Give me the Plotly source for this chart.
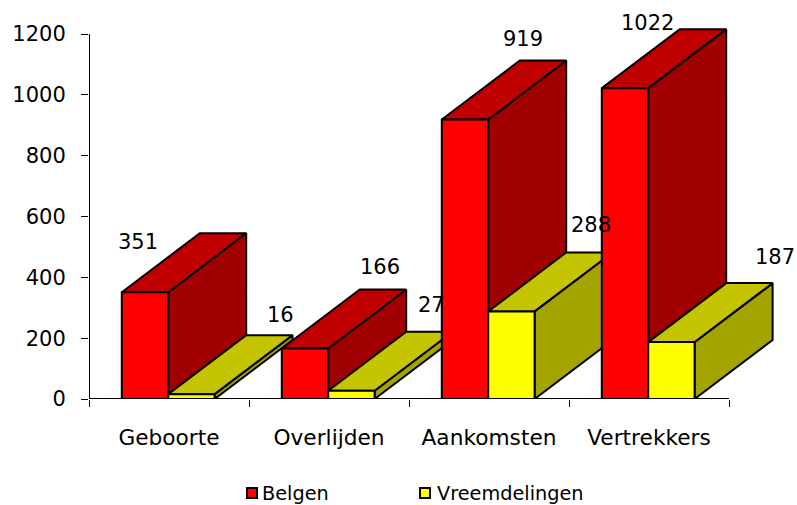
import plotly.graph_objects as go

categories = ["Geboorte", "Overlijden", "Aankomsten", "Vertrekkers"]
belgen = [351, 166, 919, 1022]
vreemdelingen = [16, 27, 288, 187]
y_ticks = [0, 200, 400, 600, 800, 1000, 1200]

W, H = 797, 505
PX_X = 160.0
PX_Y = 365 / 1200
DX = 78 / PX_X
DY = 59 / PX_Y
BAR_W = 0.29
GROUP_START = 0.205
FONT = "DejaVu Sans"
L, PLOT_H = 89, 399

STYLE = {
    "Belgen": dict(front="#FF0000", top="#C00000", side="#A00000"),
    "Vreemdelingen": dict(front="#FFFF00", top="#C4C400", side="#A4A400"),
}
# label offsets from the centre of the bar's top edge, in pixels
LABEL_OFF = {
    "Belgen": [(-7, 50), (75, 82), (58, 80), (22, 65)],
    "Vreemdelingen": [(89, 79), (80, 86), (80, 86), (104, 85)],
}
# legend key centre and text start, in page pixels
LEGEND = [("Belgen", 252, 262), ("Vreemdelingen", 425, 437)]
LEGEND_Y = 493

fig = go.Figure()


def poly(xs, ys, color):
    fig.add_trace(go.Scatter(
        x=xs + xs[:1], y=ys + ys[:1], mode="lines", fill="toself", fillcolor=color,
        line=dict(color="black", width=2), hoverinfo="skip", showlegend=False,
    ))


annotations = []
for i in range(len(categories)):
    for j, (name, vals) in enumerate([("Belgen", belgen), ("Vreemdelingen", vreemdelingen)]):
        v = vals[i]
        st = STYLE[name]
        x0 = i + GROUP_START + j * BAR_W
        x1 = x0 + BAR_W
        poly([x1, x1 + DX, x1 + DX, x1], [0, DY, v + DY, v], st["side"])
        poly([x0, x1, x1 + DX, x0 + DX], [v, v, v + DY, v + DY], st["top"])
        poly([x0, x1, x1, x0], [0, 0, v, v], st["front"])
        ox, oy = LABEL_OFF[name][i]
        annotations.append(dict(
            x=(x0 + x1) / 2, y=v, xref="x", yref="y", text=str(v), showarrow=False,
            xshift=ox, yshift=oy, font=dict(family=FONT, size=21, color="black"),
            xanchor="center", yanchor="middle",
        ))

# axis lines
fig.add_trace(go.Scatter(x=[0, 0], y=[0, 1200], mode="lines", line=dict(color="black", width=2),
                         hoverinfo="skip", showlegend=False, cliponaxis=False))
fig.add_trace(go.Scatter(x=[0, 4], y=[0, 0], mode="lines", line=dict(color="black", width=2),
                         hoverinfo="skip", showlegend=False, cliponaxis=False))

# legend, drawn by hand because the built-in key-to-text gap is too wide
shapes = []
plot_w = W - L
for name, kx, tx in LEGEND:
    shapes.append(dict(
        type="rect", xref="paper", yref="paper",
        x0=(kx - L - 5) / plot_w, x1=(kx - L + 5) / plot_w,
        y0=1 - (LEGEND_Y + 5) / PLOT_H, y1=1 - (LEGEND_Y - 5) / PLOT_H,
        fillcolor=STYLE[name]["front"], line=dict(color="black", width=2),
    ))
    annotations.append(dict(
        x=(tx - L) / plot_w, y=1 - LEGEND_Y / PLOT_H, xref="paper", yref="paper",
        text=name, showarrow=False, xanchor="left", yanchor="middle",
        xshift=-2, font=dict(family=FONT, size=19.3, color="black"),
    ))

fig.update_layout(
    width=W, height=H, autosize=False,
    margin=dict(l=L, r=0, t=0, b=H - PLOT_H),
    paper_bgcolor="white", plot_bgcolor="white",
    font=dict(family=FONT, color="black"),
    annotations=annotations, shapes=shapes, showlegend=False,
    xaxis=dict(
        range=[0, (W - L) / PX_X], showgrid=False, zeroline=False, showline=False,
        tickmode="array", tickvals=[i + 0.5 for i in range(4)], ticktext=categories,
        ticks="", ticklabelstandoff=23, tickfont=dict(family=FONT, size=21.7),
        minor=dict(tickmode="array", tickvals=list(range(5)), ticks="outside",
                   ticklen=7, tickwidth=1, tickcolor="black", showgrid=False),
    ),
    yaxis=dict(
        range=[0, PLOT_H / PX_Y], showgrid=False, zeroline=False, showline=False,
        tickmode="array", tickvals=y_ticks, ticks="outside", ticklen=7, tickwidth=1,
        tickcolor="black", ticklabelstandoff=11, tickfont=dict(family=FONT, size=21),
    ),
)

fig.write_html("out.html", config=dict(displayModeBar=False),
               post_script="document.body.style.margin='0';")
